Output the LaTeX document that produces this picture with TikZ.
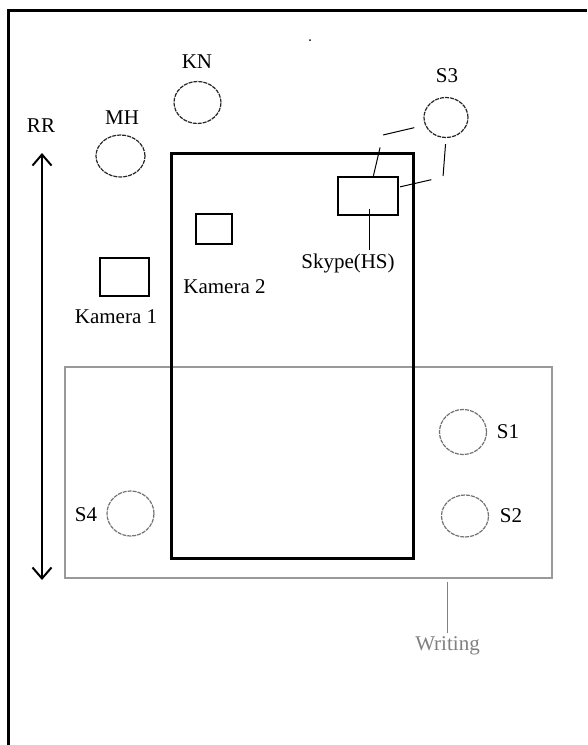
\documentclass[tikz,border=0pt]{standalone}
\usepackage{fontspec}
\setmainfont{Liberation Serif}
\usetikzlibrary{shapes.geometric,arrows.meta}

\begin{document}
\begin{tikzpicture}[
    x=1pt, y=-1pt,
    font=\fontsize{21}{25}\selectfont,
    person/.style={ellipse, draw=black!85, dash pattern=on 4pt off 1pt, line width=1.2pt, minimum width=47pt, minimum height=42pt, inner sep=0pt},
    student/.style={person, draw=black!55},
    box/.style={draw, line width=1.2pt, inner sep=0pt},
    link/.style={line width=1pt, dash pattern=on 32pt off 13pt},
    barb/.tip={Straight Barb[length=11pt, width=19pt]},
    note/.style={black!50}
]

% Page
\fill[white] (0,0) rectangle (587,745);
\useasboundingbox (0,0) rectangle (587,745);
\draw[line width=3pt] (8,745) -- (8,10) -- (587,10);
\fill (310,40) circle (1pt);

% Writing zone
\node[draw=black!40, line width=1.5pt, minimum width=487pt, minimum height=211pt] (writing) at (308.5,472.5) {};
\node[note] (wlbl) at (447.5,646) {Writing};
\draw[note, line width=1pt, shorten <=3pt] (writing.south -| wlbl.north) -- (wlbl.north);

% Table
\node[draw, line width=3pt, minimum width=242pt, minimum height=405pt] (table) at (292,355.5) {};

% Cameras
\node[box, minimum width=49pt, minimum height=38pt] (kam1) at (124.5,277) {};
\node (kam1lbl) at (116,317) {Kamera 1};
\node[box, minimum width=36pt, minimum height=30pt] (kam2) at (214,229) {};
\node (kam2lbl) at (224.5,287) {Kamera 2};

% Skype
\node[box, line width=2.5pt, minimum width=60pt, minimum height=38pt] (skype) at (368,196) {};
\node (skypelbl) at (348,263) {Skype(HS)};
\coordinate (hs) at (369,209);
\draw[line width=1pt] (hs) -- (hs |- skypelbl.north);

% People around the table
\node[person] (kn) at (197.5,102.5) {};
\node (knlbl) at (197,62) {KN};
\node[person, minimum width=49pt] (mh) at (120.5,156) {};
\node (mhlbl) at (122,118) {MH};
\node[person, minimum width=44pt, minimum height=40pt] (s3) at (446,117.5) {};
\node (s3lbl) at (447,76) {S3};

% Students
\node[student, minimum height=45pt] (s1) at (463,432) {};
\node (s1lbl) at (508,432) {S1};
\node[student] (s2) at (465,516) {};
\node (s2lbl) at (511,516) {S2};
\node[student, minimum height=45pt] (s4) at (130.5,513.5) {};
\node (s4lbl) at (86,515) {S4};

% S3 to Skype
\coordinate (c1) at (383,135);
\coordinate (c2) at (443,177);
\draw[link, dash phase=34pt] (s3.200) -- (c1) -- (skype.75);
\draw[link, dash phase=39pt] (s3.south) -- (c2) -- (skype.16);

% RR
\node (rrlbl) at (41,126) {RR};
\coordinate (rrtop) at (42,153);
\coordinate (rrbot) at (42,580);
\draw[line width=2pt, barb-barb] (rrtop) -- (rrbot);

\end{tikzpicture}
\end{document}
